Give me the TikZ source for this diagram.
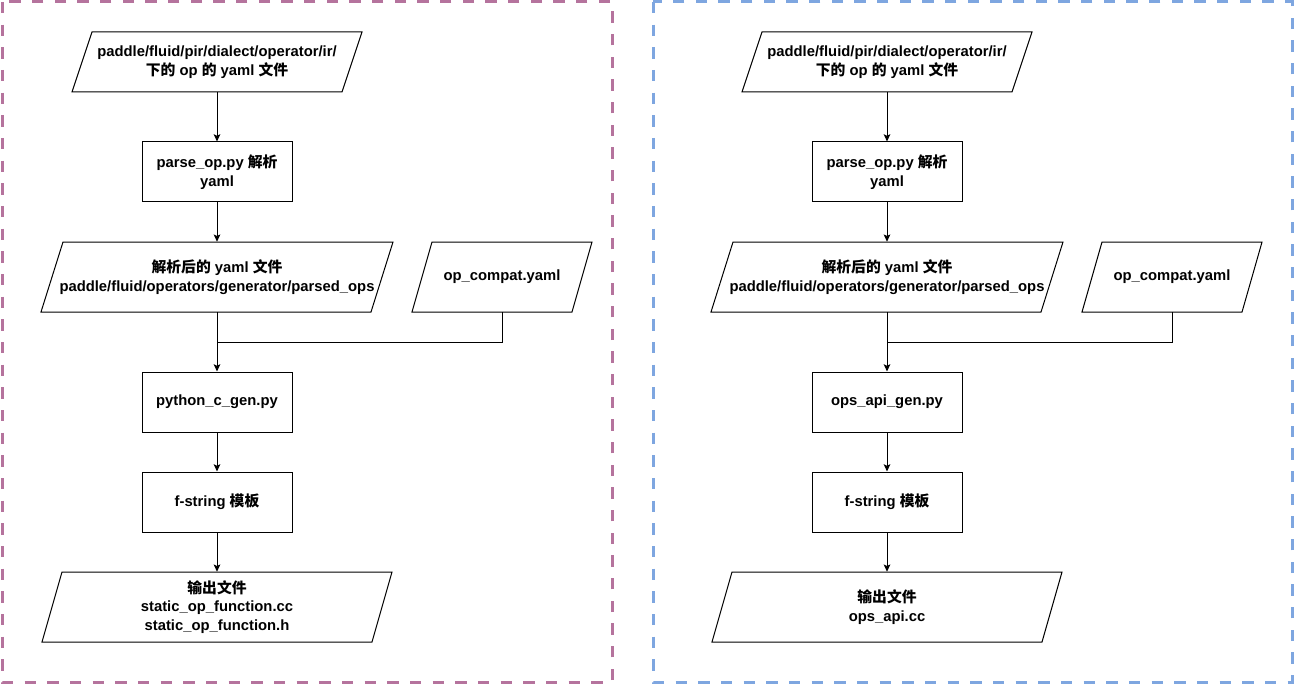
\documentclass[tikz,border=0pt]{standalone}
\usepackage{fontspec}
\setmainfont{Liberation Sans}
\newfontfamily\cjk{Noto Sans CJK SC}
\usetikzlibrary{arrows.meta}
\newcommand\zh[1]{{\cjk #1}}
% slanted (data) box: name, cx, cy, half width, half height, skew, text
\newcommand\slantbox[7]{%
  \draw[shapeline] ({#2-#4+#6},{#3-#5}) -- ({#2+#4+#6},{#3-#5})
    -- ({#2+#4-#6},{#3+#5}) -- ({#2-#4-#6},{#3+#5}) -- cycle;
  \node[txt, minimum width={2*#4*0.75pt}, minimum height={2*#5*0.75pt}] (#1) at (#2,#3) {#7};}
\tikzset{
  shapeline/.style={draw=black, line width=0.75pt},
  txt/.style={inner sep=0pt, align=center, font=\bfseries\fontsize{11.1}{13.9}\selectfont},
  procbox/.style={txt, shapeline, minimum width=112.5pt, minimum height=45pt},
  flow/.style={draw=black, line width=0.75pt, -{Stealth[length=5.5pt, width=5pt, inset=1.2pt]}},
  joinline/.style={draw=black, line width=0.75pt},
  frame/.style={line width=2.25pt, dash pattern=on 8.5pt off 8.5pt},
}
\definecolor{framepurple}{HTML}{B5739D}
\definecolor{frameblue}{HTML}{7EA6E0}
\begin{document}
\begin{tikzpicture}[x=0.75pt, y=-0.75pt]
\useasboundingbox (0,0) rectangle (1294,684);

% group frames
\draw[frame, framepurple] (2,2) rectangle (612,682);
\draw[frame, frameblue] (653,2) rectangle (1292,682);

% ---- left pipeline ----
\slantbox{la}{217}{62}{135}{30}{10}{paddle/fluid/pir/dialect/operator/ir/\\\zh{下的} op \zh{的} yaml \zh{文件}}
\node[procbox] (lb) at (217,172) {parse\_op.py \zh{解析}\\yaml};
\slantbox{lc}{217}{277}{165}{35}{11}{\zh{解析后的} yaml \zh{文件}\\paddle/fluid/operators/generator/parsed\_ops}
\slantbox{ld}{502}{277}{80}{35}{10}{op\_compat.yaml}
\coordinate (lj) at (217,342);
\node[procbox] (le) at (217,402) {python\_c\_gen.py};
\node[procbox] (lf) at (217,502) {f-string \zh{模板}};
\slantbox{lg}{217}{607}{165}{35}{10}{\zh{输出文件}\\static\_op\_function.cc\\static\_op\_function.h}

\draw[flow] (la) -- (lb);
\draw[flow] (lb) -- (lc);
\draw[flow] (lc) -- (le);
\draw[joinline] (ld.south) |- (lj);
\draw[flow] (le) -- (lf);
\draw[flow] (lf) -- (lg);

% ---- right pipeline ----
\slantbox{ra}{887}{62}{135}{30}{10}{paddle/fluid/pir/dialect/operator/ir/\\\zh{下的} op \zh{的} yaml \zh{文件}}
\node[procbox] (rb) at (887,172) {parse\_op.py \zh{解析}\\yaml};
\slantbox{rc}{887}{277}{165}{35}{11}{\zh{解析后的} yaml \zh{文件}\\paddle/fluid/operators/generator/parsed\_ops}
\slantbox{rd}{1172}{277}{80}{35}{10}{op\_compat.yaml}
\coordinate (rj) at (887,342);
\node[procbox] (re) at (887,402) {ops\_api\_gen.py};
\node[procbox] (rf) at (887,502) {f-string \zh{模板}};
\slantbox{rg}{887}{607}{165}{35}{10}{\zh{输出文件}\\ops\_api.cc}

\draw[flow] (ra) -- (rb);
\draw[flow] (rb) -- (rc);
\draw[flow] (rc) -- (re);
\draw[joinline] (rd.south) |- (rj);
\draw[flow] (re) -- (rf);
\draw[flow] (rf) -- (rg);
\end{tikzpicture}
\end{document}
